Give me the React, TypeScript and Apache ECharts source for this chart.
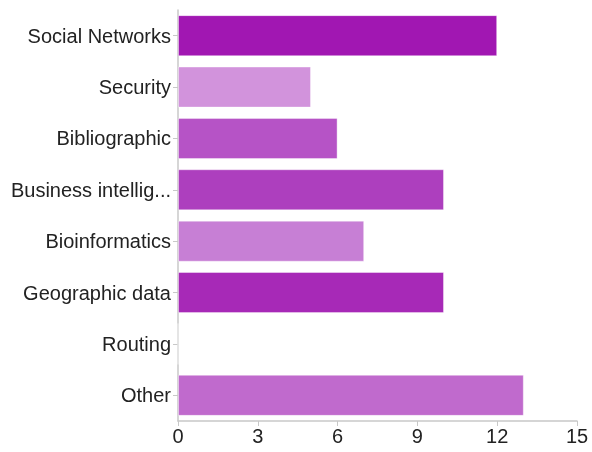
import React, { useEffect, useRef } from "react";
import * as echarts from "echarts";

const categories = [
  "Social Networks",
  "Security",
  "Bibliographic",
  "Business intellig...",
  "Bioinformatics",
  "Geographic data",
  "Routing",
  "Other",
];
const values = [12, 5, 6, 10, 7, 10, 0, 13];
const colors = ["#a117b2", "#d293dc", "#b653c6", "#ad3fbe", "#c77fd5", "#a729b7", "#bb66cb", "#c06acd"];
const xTicks = [0, 3, 6, 9, 12, 15];

export default function App() {
  const ref = useRef<HTMLDivElement>(null);
  useEffect(() => {
    const chart = echarts.init(ref.current!, null, { renderer: "svg" });
    const font = "Liberation Sans, Arial, Helvetica, sans-serif";
    chart.setOption({
      animation: false,
      grid: { left: 178, right: 15, top: 10, bottom: 31, containLabel: false },
      xAxis: {
        type: "value",
        min: xTicks[0],
        max: xTicks[xTicks.length - 1],
        interval: 3,
        splitLine: { show: false },
        axisLine: { show: true, lineStyle: { color: "#c8c8c8", width: 1.5 } },
        axisTick: { show: true, length: 5, lineStyle: { color: "#c8c8c8" } },
        axisLabel: { color: "#222", fontSize: 20, fontFamily: font, margin: 5 },
      },
      yAxis: {
        type: "category",
        inverse: true,
        data: categories,
        axisLine: { show: true, lineStyle: { color: "#c8c8c8", width: 1.5 } },
        axisTick: { show: true, length: 5, alignWithLabel: true, lineStyle: { color: "#c8c8c8" } },
        axisLabel: { color: "#222", fontSize: 20, fontFamily: font, margin: 7 },
      },
      series: [
        {
          type: "bar",
          barCategoryGap: "20%",
          data: values.map((v, i) => ({
            value: v,
            itemStyle: { color: colors[i], borderColor: "rgba(255,255,255,0.4)", borderWidth: 1 },
          })),
        },
      ],
    });
    return () => chart.dispose();
  }, []);
  return <div ref={ref} style={{ width: 592, height: 452, position: "fixed", left: 0, top: 0 }} />;
}
